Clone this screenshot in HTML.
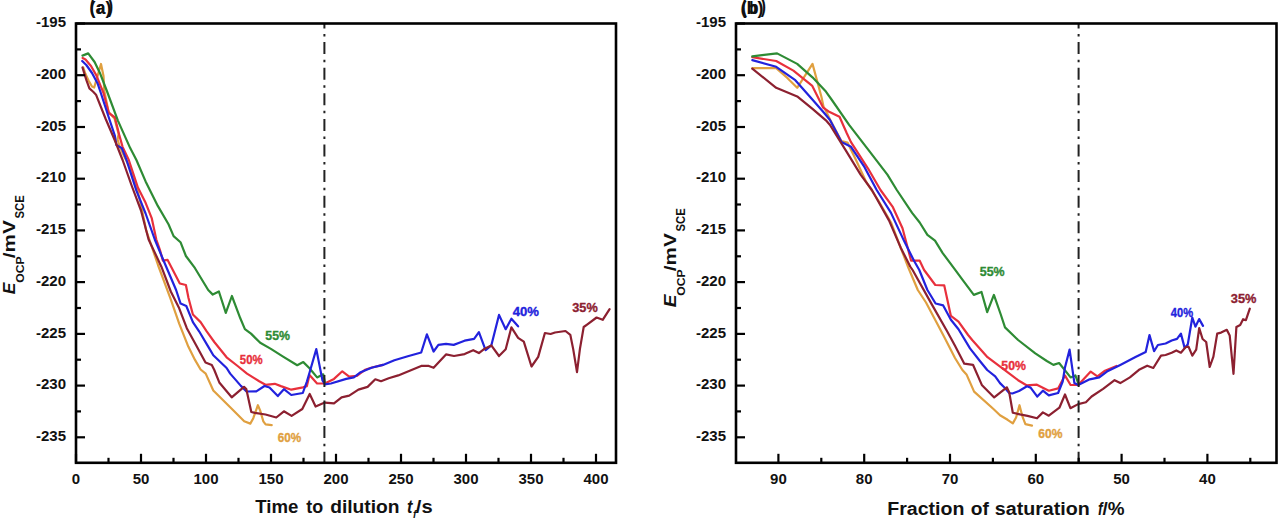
<!DOCTYPE html>
<html><head><meta charset="utf-8"><style>
html,body{margin:0;padding:0;background:#fff;width:1280px;height:523px;overflow:hidden}
svg{display:block}
text{font-family:"Liberation Sans",sans-serif;font-weight:bold}
.tk{font-size:15px;fill:#111}
.cl{font-size:13px}
.ttl{font-size:17px;fill:#111}
.pl{font-size:18px;fill:#111}
</style></head><body>
<svg width="1280" height="523" viewBox="0 0 1280 523">
<rect width="1280" height="523" fill="#fff"/>
<g>
<polyline points="83.3,67.5 85.5,74.0 88.5,80.5 92.0,86.5 94.2,87.5 101.0,64.0 103.5,76.0 104.3,91.0 108.6,112.0 114.5,118.5 118.6,134.0 117.6,139.5 119.5,146.0 124.5,157.0 130.5,169.0 136.0,184.0 141.0,205.0 146.1,230.0 158.0,265.0 170.6,298.8 179.2,323.6 188.3,346.6 195.0,359.9 200.6,369.5 205.7,373.6 213.3,390.5 230.2,407.3 244.2,421.3 250.3,423.6 253.3,418.2 257.9,405.2 260.2,410.6 263.3,421.3 265.6,424.3 271.7,425.1" fill="none" stroke="#e0a040" stroke-width="2.2" stroke-linejoin="round" stroke-linecap="round"/>
<polyline points="82.6,58.0 85.5,59.5 91.0,66.0 96.5,75.6 100.3,85.2 103.5,93.0 108.8,112.9 114.9,117.5 119.5,135.9 122.5,146.6 128.8,160.0 137.9,187.5 145.6,202.8 151.7,218.1 156.3,239.5 159.9,249.9 162.9,260.6 167.5,259.8 179.8,283.5 185.9,285.0 188.5,298.0 192.9,314.5 200.6,322.1 206.7,331.3 214.3,342.0 226.6,357.3 237.0,365.5 247.0,373.6 259.2,381.3 265.5,384.8 274.8,383.8 280.9,386.1 291.3,389.7 303.0,387.4 306.9,386.1 309.5,375.1 317.1,383.5 324.8,383.5 334.0,378.9 342.3,371.3 349.2,376.6 356.9,375.9 365.0,369.8 372.0,367.5 383.0,364.9" fill="none" stroke="#e8303c" stroke-width="2.2" stroke-linejoin="round" stroke-linecap="round"/>
<polyline points="82.5,55.6 88.2,53.4 94.6,62.0 99.8,72.7 106.5,90.0 117.9,120.6 130.2,148.1 136.4,160.0 145.6,181.4 157.8,205.9 168.5,224.2 173.6,236.1 180.5,242.2 185.9,256.0 195.0,268.2 208.2,290.0 212.8,294.6 218.9,291.5 225.8,312.9 231.9,296.0 235.7,306.1 240.3,318.3 244.9,329.1 251.0,333.6 260.2,342.8 270.9,348.9 283.1,356.6 297.2,365.2 303.3,362.1 309.5,368.2 317.1,377.4 323.2,374.3 324.8,382.0" fill="none" stroke="#2e8b34" stroke-width="2.2" stroke-linejoin="round" stroke-linecap="round"/>
<polyline points="82.2,61.0 86.3,65.0 92.0,73.0 97.5,83.2 100.5,92.0 108.8,117.5 114.9,135.9 116.4,145.0 121.8,148.1 126.5,160.0 136.4,190.6 145.6,213.5 154.8,239.5 162.9,259.0 176.1,290.0 180.6,303.6 186.3,306.0 192.9,322.1 199.1,331.3 208.2,346.6 213.3,355.3 226.6,368.0 230.2,373.6 240.9,385.9 246.5,391.5 256.3,391.3 264.5,386.0 269.5,387.5 277.8,396.1 283.9,389.2 291.3,395.0 302.8,393.0 306.9,381.5 309.5,372.8 316.3,349.1 322.5,380.5 324.8,384.3 330.9,383.5 346.2,378.9 353.8,377.4 360.0,372.6 371.5,367.8 383.0,364.9 394.4,360.2 407.8,356.3 421.2,352.5 426.9,334.3 433.6,351.5 438.4,344.9 446.0,343.9 453.7,344.9 460.0,342.5 464.6,340.7 474.1,338.8 478.9,332.1 485.6,350.2 491.3,345.4 499.0,314.9 505.7,329.2 511.4,318.7 518.1,326.3" fill="none" stroke="#2222dd" stroke-width="2.2" stroke-linejoin="round" stroke-linecap="round"/>
<polyline points="82.5,67.5 84.6,74.4 86.5,80.4 89.4,88.4 93.2,91.8 96.0,94.7 105.7,119.0 114.9,140.5 122.6,160.0 131.8,186.0 141.0,210.5 148.6,239.5 161.4,266.7 170.8,291.5 179.2,308.3 186.8,328.2 196.0,345.0 205.5,362.5 211.8,365.1 214.3,370.0 219.5,382.8 231.7,397.3 244.0,386.8 246.3,389.1 251.3,412.0 254.9,412.9 265.5,414.5 276.3,417.5 283.9,411.3 291.6,415.9 302.3,409.0 309.7,394.0 315.6,406.5 324.8,402.6 334.0,403.4 341.6,397.3 349.2,395.7 358.4,389.6 367.6,386.9 375.3,379.3 381.0,381.2 388.7,378.3 398.2,375.4 409.7,370.7 421.2,365.9 428.8,365.9 433.6,367.8 446.0,354.4 454.0,356.0 464.6,354.1 473.2,350.2 478.9,353.1 483.7,349.3 491.3,345.4 499.0,356.0 505.7,349.3 511.4,327.3 518.1,337.8 523.8,341.6 531.5,366.5 538.2,356.9 544.9,333.0 550.6,334.0 555.0,332.5 565.5,331.0 570.3,334.8 573.2,349.1 577.0,372.1 579.9,349.1 583.7,327.0 587.4,324.3 596.6,317.5 602.7,319.8 609.6,309.1" fill="none" stroke="#8c2030" stroke-width="2.2" stroke-linejoin="round" stroke-linecap="round"/>
<line x1="324.4" y1="23.5" x2="324.4" y2="462.8" stroke="#222" stroke-width="2" stroke-dasharray="12 5.55 2.5 5.55" stroke-dashoffset="7.0"/>
<rect x="76" y="23.5" width="540" height="439.3" fill="none" stroke="#000" stroke-width="2.6"/>
<line x1="76" y1="23.5" x2="85" y2="23.5" stroke="#000" stroke-width="2.2"/>
<text x="66" y="27.1" text-anchor="end" class="tk">-195</text>
<line x1="76" y1="49.4" x2="81" y2="49.4" stroke="#000" stroke-width="2.2"/>
<line x1="76" y1="75.2" x2="85" y2="75.2" stroke="#000" stroke-width="2.2"/>
<text x="66" y="78.8" text-anchor="end" class="tk">-200</text>
<line x1="76" y1="101.1" x2="81" y2="101.1" stroke="#000" stroke-width="2.2"/>
<line x1="76" y1="127.0" x2="85" y2="127.0" stroke="#000" stroke-width="2.2"/>
<text x="66" y="130.6" text-anchor="end" class="tk">-205</text>
<line x1="76" y1="152.8" x2="81" y2="152.8" stroke="#000" stroke-width="2.2"/>
<line x1="76" y1="178.7" x2="85" y2="178.7" stroke="#000" stroke-width="2.2"/>
<text x="66" y="182.3" text-anchor="end" class="tk">-210</text>
<line x1="76" y1="204.5" x2="81" y2="204.5" stroke="#000" stroke-width="2.2"/>
<line x1="76" y1="230.4" x2="85" y2="230.4" stroke="#000" stroke-width="2.2"/>
<text x="66" y="234.0" text-anchor="end" class="tk">-215</text>
<line x1="76" y1="256.3" x2="81" y2="256.3" stroke="#000" stroke-width="2.2"/>
<line x1="76" y1="282.1" x2="85" y2="282.1" stroke="#000" stroke-width="2.2"/>
<text x="66" y="285.7" text-anchor="end" class="tk">-220</text>
<line x1="76" y1="308.0" x2="81" y2="308.0" stroke="#000" stroke-width="2.2"/>
<line x1="76" y1="333.9" x2="85" y2="333.9" stroke="#000" stroke-width="2.2"/>
<text x="66" y="337.5" text-anchor="end" class="tk">-225</text>
<line x1="76" y1="359.7" x2="81" y2="359.7" stroke="#000" stroke-width="2.2"/>
<line x1="76" y1="385.6" x2="85" y2="385.6" stroke="#000" stroke-width="2.2"/>
<text x="66" y="389.2" text-anchor="end" class="tk">-230</text>
<line x1="76" y1="411.4" x2="81" y2="411.4" stroke="#000" stroke-width="2.2"/>
<line x1="76" y1="437.3" x2="85" y2="437.3" stroke="#000" stroke-width="2.2"/>
<text x="66" y="440.9" text-anchor="end" class="tk">-235</text>
<line x1="76.0" y1="462.8" x2="76.0" y2="453.8" stroke="#000" stroke-width="2.2"/>
<text x="76.0" y="484.3" text-anchor="middle" class="tk">0</text>
<line x1="141.0" y1="462.8" x2="141.0" y2="453.8" stroke="#000" stroke-width="2.2"/>
<text x="141.0" y="484.3" text-anchor="middle" class="tk">50</text>
<line x1="206.0" y1="462.8" x2="206.0" y2="453.8" stroke="#000" stroke-width="2.2"/>
<text x="206.0" y="484.3" text-anchor="middle" class="tk">100</text>
<line x1="271.0" y1="462.8" x2="271.0" y2="453.8" stroke="#000" stroke-width="2.2"/>
<text x="271.0" y="484.3" text-anchor="middle" class="tk">150</text>
<line x1="336.0" y1="462.8" x2="336.0" y2="453.8" stroke="#000" stroke-width="2.2"/>
<text x="336.0" y="484.3" text-anchor="middle" class="tk">200</text>
<line x1="401.0" y1="462.8" x2="401.0" y2="453.8" stroke="#000" stroke-width="2.2"/>
<text x="401.0" y="484.3" text-anchor="middle" class="tk">250</text>
<line x1="466.0" y1="462.8" x2="466.0" y2="453.8" stroke="#000" stroke-width="2.2"/>
<text x="466.0" y="484.3" text-anchor="middle" class="tk">300</text>
<line x1="531.0" y1="462.8" x2="531.0" y2="453.8" stroke="#000" stroke-width="2.2"/>
<text x="531.0" y="484.3" text-anchor="middle" class="tk">350</text>
<line x1="596.0" y1="462.8" x2="596.0" y2="453.8" stroke="#000" stroke-width="2.2"/>
<text x="596.0" y="484.3" text-anchor="middle" class="tk">400</text>
<line x1="108.5" y1="462.8" x2="108.5" y2="457.8" stroke="#000" stroke-width="2.2"/>
<line x1="173.5" y1="462.8" x2="173.5" y2="457.8" stroke="#000" stroke-width="2.2"/>
<line x1="238.5" y1="462.8" x2="238.5" y2="457.8" stroke="#000" stroke-width="2.2"/>
<line x1="303.5" y1="462.8" x2="303.5" y2="457.8" stroke="#000" stroke-width="2.2"/>
<line x1="368.5" y1="462.8" x2="368.5" y2="457.8" stroke="#000" stroke-width="2.2"/>
<line x1="433.5" y1="462.8" x2="433.5" y2="457.8" stroke="#000" stroke-width="2.2"/>
<line x1="498.5" y1="462.8" x2="498.5" y2="457.8" stroke="#000" stroke-width="2.2"/>
<line x1="563.5" y1="462.8" x2="563.5" y2="457.8" stroke="#000" stroke-width="2.2"/>
<polyline points="752.3,68.2 776.2,68.2 787.6,78.2 797.2,87.8 812.5,63.9 821.4,96.8 823.5,106.5 826.0,111.0 830.0,119.5 841.5,141.2 847.5,142.5 856.0,160.0 866.3,182.2 878.0,200.0 891.0,222.5 908.5,268.0 917.8,290.0 926.0,302.5 943.2,335.0 955.0,358.0 962.4,370.0 966.5,374.4 974.1,391.6 993.2,408.8 1000.0,415.2 1007.6,419.8 1012.8,423.4 1016.1,417.5 1019.5,405.2 1022.5,416.7 1025.4,424.2 1032.0,425.6" fill="none" stroke="#e0a040" stroke-width="2.2" stroke-linejoin="round" stroke-linecap="round"/>
<polyline points="752.3,57.2 776.2,61.0 793.4,70.6 812.3,85.9 823.2,107.7 828.6,111.4 839.5,116.8 846.8,133.2 851.0,142.1 868.2,168.8 880.5,190.0 892.9,207.2 902.5,228.2 911.1,260.7 919.7,260.7 924.1,270.0 935.3,285.0 944.2,285.3 950.9,315.9 958.5,321.6 968.1,335.0 972.2,340.0 987.5,357.2 1002.8,368.7 1018.1,380.2 1026.5,385.3 1036.9,384.7 1048.8,390.7 1058.1,388.4 1064.9,375.4 1070.6,385.0 1078.2,385.0 1090.7,371.6 1097.4,376.4 1105.0,370.7 1116.5,365.9" fill="none" stroke="#e8303c" stroke-width="2.2" stroke-linejoin="round" stroke-linecap="round"/>
<polyline points="752.3,56.3 777.1,53.4 797.2,63.9 812.5,77.3 825.9,91.6 831.9,100.0 849.1,124.9 868.2,149.7 887.4,174.6 896.8,190.0 912.1,212.9 919.7,222.5 927.4,234.9 935.0,240.7 942.7,253.1 954.1,268.4 962.4,279.6 973.8,294.9 981.5,292.0 987.2,312.1 993.9,294.9 1000.6,314.0 1005.0,327.4 1018.1,340.0 1035.3,353.4 1046.8,361.0 1053.4,364.9 1059.1,363.0 1070.6,377.4 1075.4,375.4 1078.2,383.1" fill="none" stroke="#2e8b34" stroke-width="2.2" stroke-linejoin="round" stroke-linecap="round"/>
<polyline points="752.3,60.1 776.2,66.8 795.3,80.2 810.6,97.4 824.0,112.7 830.0,120.0 841.5,142.1 851.0,146.8 864.4,166.9 876.7,190.0 891.0,212.9 904.4,241.6 914.0,260.7 919.3,270.0 927.4,290.0 935.6,303.5 943.2,305.4 950.9,319.7 958.5,329.3 970.0,348.4 979.9,361.0 987.2,370.0 995.2,376.3 1000.0,383.1 1004.7,387.8 1009.2,393.0 1012.4,393.5 1019.0,391.0 1027.0,386.3 1030.6,387.6 1037.3,396.6 1042.9,390.7 1048.8,395.4 1058.1,393.0 1062.7,381.5 1064.9,367.8 1069.6,349.6 1074.4,383.1 1078.2,385.0 1089.7,379.3 1099.3,377.4 1106.9,371.6 1120.3,364.9 1135.0,357.3 1145.7,351.9 1149.5,335.1 1154.1,351.2 1157.9,345.0 1165.6,343.5 1171.7,340.5 1177.0,338.9 1180.9,333.6 1184.7,348.1 1187.8,344.3 1192.3,317.5 1195.4,326.7 1199.2,319.1 1203.0,325.9" fill="none" stroke="#2222dd" stroke-width="2.2" stroke-linejoin="round" stroke-linecap="round"/>
<polyline points="752.3,68.7 776.2,87.8 797.2,96.4 812.5,108.8 825.9,120.3 830.0,125.0 845.3,149.7 860.6,174.6 871.9,190.0 889.1,220.6 900.6,247.4 910.2,266.5 912.6,270.0 931.8,304.4 947.1,331.2 955.0,345.7 964.3,363.7 973.0,364.8 981.8,384.9 994.2,397.4 1006.8,387.3 1009.2,392.2 1012.8,412.8 1019.9,414.4 1027.5,415.9 1037.0,418.3 1042.9,412.4 1048.8,415.7 1059.4,407.7 1065.0,394.5 1070.4,408.2 1078.2,404.1 1085.9,402.2 1091.6,396.5 1103.1,388.8 1114.6,380.2 1120.3,383.1 1129.9,377.4 1139.0,369.8 1147.2,365.7 1153.3,368.0 1161.0,355.7 1165.6,355.0 1171.7,352.7 1176.3,350.4 1180.9,352.7 1185.5,347.3 1188.5,346.6 1192.3,355.7 1196.2,349.6 1199.2,328.2 1202.6,339.0 1206.2,342.0 1209.7,367.0 1213.4,356.6 1217.2,333.6 1221.1,332.6 1226.8,329.8 1229.7,335.5 1233.5,373.8 1236.4,326.9 1240.2,325.0 1243.1,319.2 1245.9,320.2 1249.8,308.7" fill="none" stroke="#8c2030" stroke-width="2.2" stroke-linejoin="round" stroke-linecap="round"/>
<line x1="1078.6" y1="23.5" x2="1078.6" y2="462.8" stroke="#222" stroke-width="2" stroke-dasharray="12 5.55 2.5 5.55" stroke-dashoffset="7.0"/>
<rect x="736" y="23.5" width="540.5" height="439.3" fill="none" stroke="#000" stroke-width="2.6"/>
<line x1="736" y1="23.5" x2="745" y2="23.5" stroke="#000" stroke-width="2.2"/>
<text x="726" y="27.1" text-anchor="end" class="tk">-195</text>
<line x1="736" y1="49.4" x2="741" y2="49.4" stroke="#000" stroke-width="2.2"/>
<line x1="736" y1="75.2" x2="745" y2="75.2" stroke="#000" stroke-width="2.2"/>
<text x="726" y="78.8" text-anchor="end" class="tk">-200</text>
<line x1="736" y1="101.1" x2="741" y2="101.1" stroke="#000" stroke-width="2.2"/>
<line x1="736" y1="127.0" x2="745" y2="127.0" stroke="#000" stroke-width="2.2"/>
<text x="726" y="130.6" text-anchor="end" class="tk">-205</text>
<line x1="736" y1="152.8" x2="741" y2="152.8" stroke="#000" stroke-width="2.2"/>
<line x1="736" y1="178.7" x2="745" y2="178.7" stroke="#000" stroke-width="2.2"/>
<text x="726" y="182.3" text-anchor="end" class="tk">-210</text>
<line x1="736" y1="204.5" x2="741" y2="204.5" stroke="#000" stroke-width="2.2"/>
<line x1="736" y1="230.4" x2="745" y2="230.4" stroke="#000" stroke-width="2.2"/>
<text x="726" y="234.0" text-anchor="end" class="tk">-215</text>
<line x1="736" y1="256.3" x2="741" y2="256.3" stroke="#000" stroke-width="2.2"/>
<line x1="736" y1="282.1" x2="745" y2="282.1" stroke="#000" stroke-width="2.2"/>
<text x="726" y="285.7" text-anchor="end" class="tk">-220</text>
<line x1="736" y1="308.0" x2="741" y2="308.0" stroke="#000" stroke-width="2.2"/>
<line x1="736" y1="333.9" x2="745" y2="333.9" stroke="#000" stroke-width="2.2"/>
<text x="726" y="337.5" text-anchor="end" class="tk">-225</text>
<line x1="736" y1="359.7" x2="741" y2="359.7" stroke="#000" stroke-width="2.2"/>
<line x1="736" y1="385.6" x2="745" y2="385.6" stroke="#000" stroke-width="2.2"/>
<text x="726" y="389.2" text-anchor="end" class="tk">-230</text>
<line x1="736" y1="411.4" x2="741" y2="411.4" stroke="#000" stroke-width="2.2"/>
<line x1="736" y1="437.3" x2="745" y2="437.3" stroke="#000" stroke-width="2.2"/>
<text x="726" y="440.9" text-anchor="end" class="tk">-235</text>
<line x1="778.4" y1="462.8" x2="778.4" y2="453.8" stroke="#000" stroke-width="2.2"/>
<text x="778.4" y="484.3" text-anchor="middle" class="tk">90</text>
<line x1="864.2" y1="462.8" x2="864.2" y2="453.8" stroke="#000" stroke-width="2.2"/>
<text x="864.2" y="484.3" text-anchor="middle" class="tk">80</text>
<line x1="950.0" y1="462.8" x2="950.0" y2="453.8" stroke="#000" stroke-width="2.2"/>
<text x="950.0" y="484.3" text-anchor="middle" class="tk">70</text>
<line x1="1035.8" y1="462.8" x2="1035.8" y2="453.8" stroke="#000" stroke-width="2.2"/>
<text x="1035.8" y="484.3" text-anchor="middle" class="tk">60</text>
<line x1="1121.6" y1="462.8" x2="1121.6" y2="453.8" stroke="#000" stroke-width="2.2"/>
<text x="1121.6" y="484.3" text-anchor="middle" class="tk">50</text>
<line x1="1207.4" y1="462.8" x2="1207.4" y2="453.8" stroke="#000" stroke-width="2.2"/>
<text x="1207.4" y="484.3" text-anchor="middle" class="tk">40</text>
<line x1="821.3" y1="462.8" x2="821.3" y2="457.8" stroke="#000" stroke-width="2.2"/>
<line x1="907.1" y1="462.8" x2="907.1" y2="457.8" stroke="#000" stroke-width="2.2"/>
<line x1="992.9" y1="462.8" x2="992.9" y2="457.8" stroke="#000" stroke-width="2.2"/>
<line x1="1078.7" y1="462.8" x2="1078.7" y2="457.8" stroke="#000" stroke-width="2.2"/>
<line x1="1164.5" y1="462.8" x2="1164.5" y2="457.8" stroke="#000" stroke-width="2.2"/>
<line x1="1250.3" y1="462.8" x2="1250.3" y2="457.8" stroke="#000" stroke-width="2.2"/>
<text x="89.5" y="14" class="pl">(a)</text>
<text x="740.5" y="14" class="pl">(b)</text>
<text x="255.20" y="512.7" style="font-size:17.5px;" fill="#111" textLength="43.13" lengthAdjust="spacingAndGlyphs">Time</text>
<text x="306.20" y="512.7" style="font-size:17.5px;" fill="#111" textLength="16.93" lengthAdjust="spacingAndGlyphs">to</text>
<text x="330.20" y="512.7" style="font-size:17.5px;" fill="#111" textLength="69.39" lengthAdjust="spacingAndGlyphs">dilution</text>
<text x="407.10" y="512.7" style="font-size:17.5px;font-style:italic;" fill="#111" textLength="5.43" lengthAdjust="spacingAndGlyphs">t</text>
<text x="413.00" y="518.0" style="font-size:10px;font-style:italic;" fill="#111">f</text>
<text x="415.80" y="512.7" style="font-size:17.5px;" fill="#111" textLength="16.81" lengthAdjust="spacingAndGlyphs">/s</text>
<text x="887.20" y="514.9" style="font-size:17.5px;" fill="#111" textLength="77.25" lengthAdjust="spacingAndGlyphs">Fraction</text>
<text x="970.70" y="514.9" style="font-size:17.5px;" fill="#111" textLength="18.13" lengthAdjust="spacingAndGlyphs">of</text>
<text x="994.80" y="514.9" style="font-size:17.5px;" fill="#111" textLength="95.01" lengthAdjust="spacingAndGlyphs">saturation</text>
<text x="1098.10" y="514.9" style="font-size:17.5px;font-style:italic;" fill="#111" textLength="4.63" lengthAdjust="spacingAndGlyphs">f</text>
<text x="1102.60" y="514.9" style="font-size:17.5px;" fill="#111" textLength="22.04" lengthAdjust="spacingAndGlyphs">/%</text>
<text transform="translate(15.3,296) rotate(-90)" x="1.80" y="0" style="font-size:17.2px;font-style:italic;" fill="#111" textLength="11.67" lengthAdjust="spacingAndGlyphs">E</text>
<text transform="translate(15.3,296) rotate(-90)" x="13.20" y="8.7" style="font-size:11px;" fill="#111" textLength="26.44" lengthAdjust="spacingAndGlyphs">OCP</text>
<text transform="translate(15.3,296) rotate(-90)" x="37.80" y="0" style="font-size:17.2px;" fill="#111" textLength="37.93" lengthAdjust="spacingAndGlyphs">/mV</text>
<text transform="translate(15.3,296) rotate(-90)" x="77.40" y="8.9" style="font-size:12.8px;" fill="#111" textLength="23.31" lengthAdjust="spacingAndGlyphs">SCE</text>
<text transform="translate(676.3,308.6) rotate(-90)" x="1.40" y="0" style="font-size:17.2px;font-style:italic;" fill="#111" textLength="12.67" lengthAdjust="spacingAndGlyphs">E</text>
<text transform="translate(676.3,308.6) rotate(-90)" x="12.80" y="8.7" style="font-size:11px;" fill="#111" textLength="26.44" lengthAdjust="spacingAndGlyphs">OCP</text>
<text transform="translate(676.3,308.6) rotate(-90)" x="37.40" y="0" style="font-size:17.2px;" fill="#111" textLength="37.93" lengthAdjust="spacingAndGlyphs">/mV</text>
<text transform="translate(676.3,308.6) rotate(-90)" x="77.00" y="8.9" style="font-size:12.8px;" fill="#111" textLength="23.31" lengthAdjust="spacingAndGlyphs">SCE</text>
<text x="89.80" y="12.7" style="font-size:21px;" fill="#111" textLength="5.00" lengthAdjust="spacingAndGlyphs">(</text>
<text x="97.30" y="13.5" style="font-size:17.5px;" fill="#111" textLength="7.73" lengthAdjust="spacingAndGlyphs">a</text>
<text x="107.80" y="12.7" style="font-size:21px;" fill="#111" textLength="5.40" lengthAdjust="spacingAndGlyphs">)</text>
<text x="741.80" y="12.7" style="font-size:21px;" fill="#111" textLength="5.20" lengthAdjust="spacingAndGlyphs">(</text>
<text x="749.30" y="13.8" style="font-size:17.5px;" fill="#111" textLength="9.30" lengthAdjust="spacingAndGlyphs">b</text>
<text x="760.80" y="12.7" style="font-size:21px;" fill="#111" textLength="5.20" lengthAdjust="spacingAndGlyphs">)</text>
<text x="265.30" y="339.5000000000001" style="font-size:13px;" fill="#2e8b34" stroke="#2e8b34" stroke-width="0.35" textLength="24.63" lengthAdjust="spacingAndGlyphs">55%</text>
<text x="239.80" y="363.50000000000006" style="font-size:13px;" fill="#e8303c" stroke="#e8303c" stroke-width="0.35" textLength="22.83" lengthAdjust="spacingAndGlyphs">50%</text>
<text x="277.80" y="442.0" style="font-size:13px;" fill="#e0a040" stroke="#e0a040" stroke-width="0.35" textLength="23.43" lengthAdjust="spacingAndGlyphs">60%</text>
<text x="512.80" y="315.5000000000001" style="font-size:13px;" fill="#2222dd" stroke="#2222dd" stroke-width="0.35" textLength="26.23" lengthAdjust="spacingAndGlyphs">40%</text>
<text x="572.30" y="311.99999999999994" style="font-size:13px;" fill="#8c2030" stroke="#8c2030" stroke-width="0.35" textLength="25.43" lengthAdjust="spacingAndGlyphs">35%</text>
<text x="979.80" y="275.5" style="font-size:13px;" fill="#2e8b34" stroke="#2e8b34" stroke-width="0.35" textLength="24.83" lengthAdjust="spacingAndGlyphs">55%</text>
<text x="1001.30" y="369.50000000000017" style="font-size:13px;" fill="#e8303c" stroke="#e8303c" stroke-width="0.35" textLength="24.63" lengthAdjust="spacingAndGlyphs">50%</text>
<text x="1038.30" y="437.99999999999994" style="font-size:13px;" fill="#e0a040" stroke="#e0a040" stroke-width="0.35" textLength="24.23" lengthAdjust="spacingAndGlyphs">60%</text>
<text x="1170.80" y="316.5000000000001" style="font-size:13px;" fill="#2222dd" stroke="#2222dd" stroke-width="0.35" textLength="22.23" lengthAdjust="spacingAndGlyphs">40%</text>
<text x="1230.80" y="302.50000000000006" style="font-size:13px;" fill="#8c2030" stroke="#8c2030" stroke-width="0.35" textLength="25.63" lengthAdjust="spacingAndGlyphs">35%</text>
</g>
</svg>
</body></html>
